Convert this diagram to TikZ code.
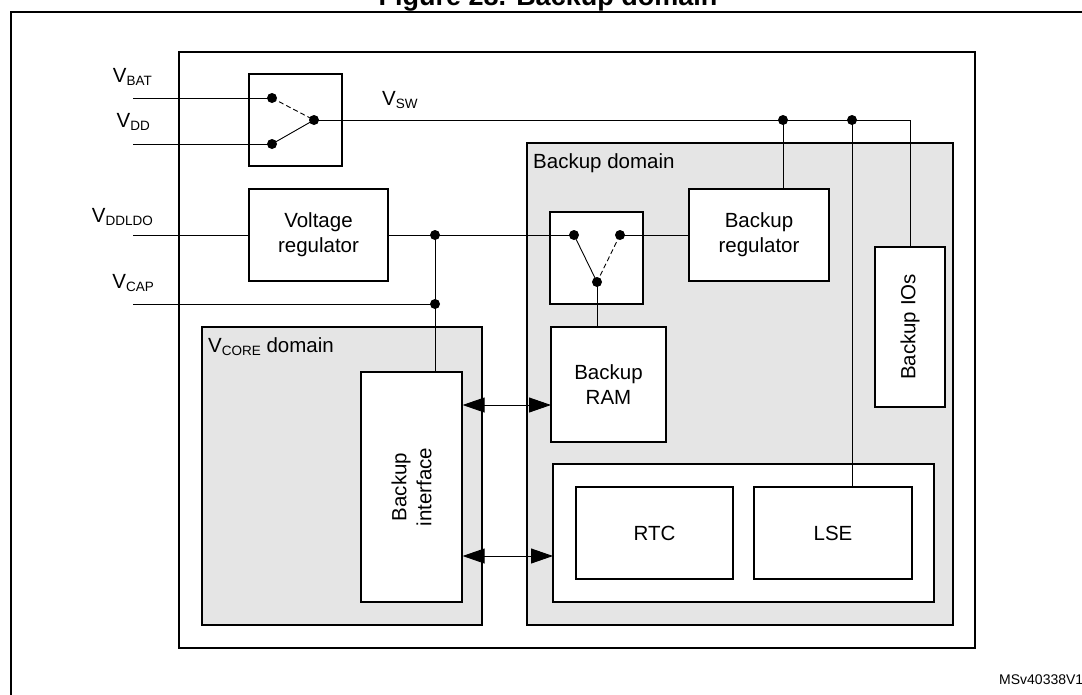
\documentclass[tikz,border=0pt]{standalone}
\usepackage{fontspec}
\setmainfont{Liberation Sans}
\usetikzlibrary{arrows.meta}
\newcommand{\vsub}[1]{\raisebox{-3pt}{\fontsize{13.5}{13.5}\selectfont #1}}
\tikzset{
  blk/.style={draw, fill=white, line width=1.2pt, inner sep=0pt, align=center},
  pwrdomain/.style={draw, fill=black!10, line width=2.2pt, inner sep=0pt},
  wire/.style={line width=0.9pt},
  dash line/.style={wire, dash pattern=on 5pt off 3pt},
  pin/.style={anchor=base east, inner sep=0pt},
  tag/.style={anchor=base west, inner sep=0pt},
  dbl/.style={line width=0.9pt, {Triangle[length=22pt,width=15pt]}-{Triangle[length=22pt,width=15pt]}}
}
\begin{document}
\begin{tikzpicture}[x=1pt, y=-1pt, font=\fontsize{20.5}{25}\selectfont]
\useasboundingbox (0,0) rectangle (1082,694);
\node[anchor=base, inner sep=0pt, font=\bfseries\fontsize{27}{27}\selectfont] (title) at (548,5) {Figure 28. Backup domain};
\draw[line width=2pt] (11,12) rectangle (1120,720);
\node[draw, line width=2.2pt, minimum width=796, minimum height=596] (chip) at (577,350) {};
\node[pwrdomain, minimum width=426, minimum height=482] (bkd) at (740,384) {};
\node[pwrdomain, minimum width=280, minimum height=298] (core) at (342,476) {};
\node[tag] (lbkd) at (533,168) {Backup domain};
\node[tag] (lcore) at (208,352) {V\vsub{CORE} domain};

\node[pin] (lbat) at (152,82) {V\vsub{BAT}};
\node[pin] (lvdd) at (150,127) {V\vsub{DD}};
\node[pin] (lldo) at (153,222) {V\vsub{DDLDO}};
\node[pin] (lcap) at (154,288) {V\vsub{CAP}};
\node[tag] (lsw) at (382,105) {V\vsub{SW}};

\coordinate (inbat) at (133,98);
\coordinate (invdd) at (133,144);
\coordinate (inldo) at (133,235);
\coordinate (incap) at (133,304);
\coordinate (bat) at (272,98);
\coordinate (vdd) at (272,144);
\coordinate (swo) at (314,120);
\coordinate (s2l) at (574,235);
\coordinate (s2r) at (620,235);
\coordinate (s2o) at (597,282);
\coordinate (j1) at (435,235);
\coordinate (j2) at (435,304);
\coordinate (j3) at (783,120);
\coordinate (j4) at (852,120);
\coordinate (ramin) at (551,405);
\coordinate (grpin) at (553,556);

\node[blk, minimum width=93, minimum height=92] (sw1) at (295.5,120) {};
\node[blk, minimum width=93, minimum height=92] (sw2) at (596.5,258) {};
\node[blk, minimum width=139, minimum height=92] (vreg) at (318.5,235) {Voltage\\regulator};
\node[blk, minimum width=140, minimum height=92] (breg) at (759,235) {Backup\\regulator};
\node[blk, minimum width=70, minimum height=160, label={[rotate=90]center:Backup IOs}] (bios) at (910,327) {};
\node[blk, minimum width=115, minimum height=115] (ram) at (608.5,384.5) {Backup\\RAM};
\node[blk, minimum width=381, minimum height=138] (grp) at (743.5,533) {};
\node[blk, minimum width=157, minimum height=92] (rtc) at (654.5,533) {RTC};
\node[blk, minimum width=158, minimum height=92] (lse) at (833,533) {LSE};
\node[blk, minimum width=101, minimum height=230, label={[rotate=90, align=center]center:Backup\\interface}] (iface) at (411.5,487) {};

\draw[wire] (inbat) -- (bat);
\draw[wire] (invdd) -- (vdd);
\draw[dash line] (bat) -- (swo);
\draw[wire] (vdd) -- (swo);
\draw[wire] (swo) -- (bios.north |- swo) -- (bios.north);
\draw[wire] (j3) -- (j3 |- breg.north);
\draw[wire] (j4) -- (j4 |- lse.north);
\draw[wire] (inldo) -- (vreg.west);
\draw[wire] (vreg.east) -- (s2l);
\draw[wire] (incap) -- (j2);
\draw[wire] (j1) -- (j1 |- iface.north);
\draw[wire] (s2l) -- (s2o);
\draw[dash line] (s2r) -- (s2o);
\draw[wire] (s2r) -- (breg.west);
\draw[wire] (s2o) -- (s2o |- ram.north);
\foreach \p in {bat,vdd,swo,s2l,s2r,s2o,j1,j2,j3,j4}
  \fill (\p) circle (5);
\draw[dbl] (iface.east |- ramin) -- (ramin);
\draw[dbl] (iface.east |- grpin) -- (grpin);

\node[tag, font=\fontsize{14}{14}\selectfont] (ref) at (999,684) {MSv40338V1};
\end{tikzpicture}
\end{document}
